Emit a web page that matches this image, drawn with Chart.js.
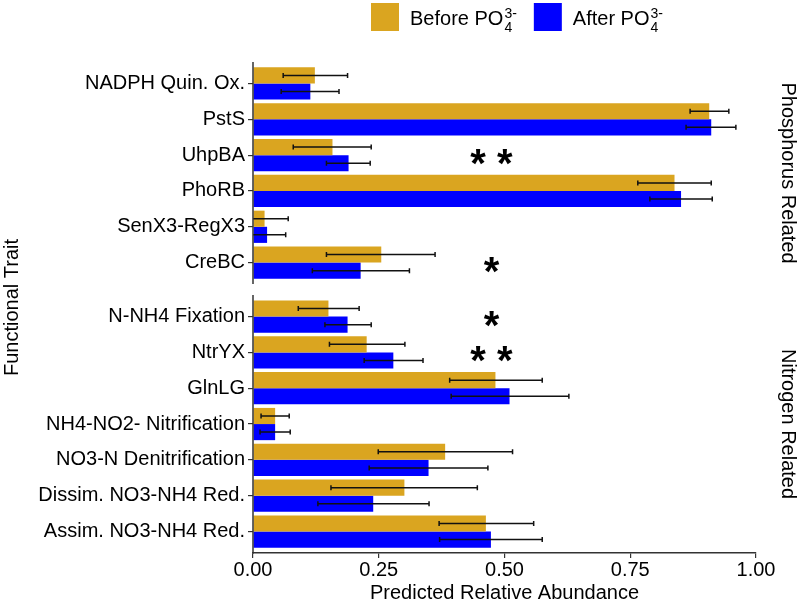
<!DOCTYPE html>
<html>
<head>
<meta charset="utf-8">
<script src="https://cdn.jsdelivr.net/npm/chart.js@4"></script>
<style>
    html, body { margin: 0; padding: 0; background: #fff; }
</style>
</head>
<body>
<canvas id="grafico" width="800" height="605"></canvas>
<script>
// Painel de fósforo
const pCategorias = ['NADPH Quin. Ox.', 'PstS', 'UhpBA', 'PhoRB', 'SenX3-RegX3', 'CreBC'];
const pAntes      = [0.123, 0.907, 0.158, 0.838, 0.023, 0.255];
const pAntesMin   = [0.060, 0.869, 0.080, 0.765, -0.02, 0.146];
const pAntesMax   = [0.188, 0.946, 0.235, 0.911, 0.070, 0.362];
const pDepois     = [0.114, 0.911, 0.190, 0.851, 0.028, 0.214];
const pDepoisMin  = [0.056, 0.861, 0.146, 0.789, -0.02, 0.118];
const pDepoisMax  = [0.171, 0.960, 0.233, 0.913, 0.065, 0.311];
const pSig        = ['', '', '* *', '', '', '*'];

// Painel de nitrogênio
const nCategorias = ['N-NH4 Fixation', 'NtrYX', 'GlnLG', 'NH4-NO2- Nitrification',
                     'NO3-N Denitrification', 'Dissim. NO3-NH4 Red.', 'Assim. NO3-NH4 Red.'];
const nAntes      = [0.150, 0.226, 0.482, 0.044, 0.382, 0.301, 0.463];
const nAntesMin   = [0.090, 0.152, 0.391, 0.016, 0.249, 0.155, 0.370];
const nAntesMax   = [0.211, 0.302, 0.575, 0.072, 0.516, 0.446, 0.558];
const nDepois     = [0.188, 0.279, 0.510, 0.044, 0.349, 0.239, 0.473];
const nDepoisMin  = [0.143, 0.221, 0.394, 0.014, 0.231, 0.129, 0.371];
const nDepoisMax  = [0.235, 0.338, 0.628, 0.074, 0.467, 0.350, 0.575];
const nSig        = ['*', '* *', '', '', '', '', ''];

const paineisNomes = ['Phosphorus Related', 'Nitrogen Related'];
const serieNomes = ['Before PO', 'After PO'];
const serieCores = ['#DAA520', '#0000FF'];
const xTicks = [0, 0.25, 0.5, 0.75, 1];
const posAsterisco = 0.474;

const FONTE = "'Liberation Sans', Arial, sans-serif";
const ESPACO = 0.6;   // expansão discreta (igual ao ggplot)
const GAP = 0.307;    // espaço entre os painéis

// Posições das categorias no eixo y
const posP = pCategorias.map((c, i) => i);
const inicioN = (pCategorias.length - 1) + 2 * ESPACO + GAP;
const posN = nCategorias.map((c, i) => inicioN + i);
const yMin = -ESPACO;
const yMax = inicioN + nCategorias.length - 1 + ESPACO;

const todasCategorias = pCategorias.concat(nCategorias);
const todasPos = posP.concat(posN);
const todasSig = pSig.concat(nSig);

function pontos(valores) {
    return todasPos.map((p, i) => ({ x: valores[i], y: p }));
}

// Barras de erro
const barrasErro = {
    id: 'barrasErro',
    afterDatasetsDraw(chart) {
        const ctx = chart.ctx;
        const escalaX = chart.scales.x;
        const area = chart.chartArea;
        ctx.save();
        ctx.beginPath();
        ctx.rect(area.left, area.top - 10, area.right - area.left + 20, area.bottom - area.top + 20);
        ctx.clip();
        ctx.strokeStyle = '#111';
        ctx.lineWidth = 1.5;
        chart.data.datasets.forEach((ds, i) => {
            chart.getDatasetMeta(i).data.forEach((barra, j) => {
                const x1 = escalaX.getPixelForValue(ds.erroMin[j]);
                const x2 = escalaX.getPixelForValue(ds.erroMax[j]);
                const y = barra.y;
                ctx.beginPath();
                ctx.moveTo(x1, y); ctx.lineTo(x2, y);
                ctx.moveTo(x1, y - 2.5); ctx.lineTo(x1, y + 2.5);
                ctx.moveTo(x2, y - 2.5); ctx.lineTo(x2, y + 2.5);
                ctx.stroke();
            });
        });
        ctx.restore();
    }
};

// Asteriscos de significância
const asteriscos = {
    id: 'asteriscos',
    afterDatasetsDraw(chart) {
        const ctx = chart.ctx;
        const x = chart.scales.x.getPixelForValue(posAsterisco);
        ctx.save();
        ctx.font = 'bold 40px ' + FONTE;
        ctx.fillStyle = '#000';
        ctx.textAlign = 'center';
        ctx.textBaseline = 'alphabetic';
        todasSig.forEach((s, i) => {
            if (!s) return;
            const m = ctx.measureText(s);
            const y = chart.scales.y.getPixelForValue(todasPos[i]) + 2;
            ctx.fillText(s, x, y + (m.actualBoundingBoxAscent - m.actualBoundingBoxDescent) / 2);
        });
        ctx.restore();
    }
};

// Linhas do eixo y e rótulos dos painéis
const paineis = {
    id: 'paineis',
    afterDraw(chart) {
        const ctx = chart.ctx;
        const escalaY = chart.scales.y;
        const area = chart.chartArea;
        const faixas = [
            [yMin, posP[posP.length - 1] + ESPACO],
            [inicioN - ESPACO, yMax]
        ];
        ctx.save();
        faixas.forEach((f, i) => {
            const y1 = escalaY.getPixelForValue(f[0]);
            const y2 = escalaY.getPixelForValue(f[1]);
            ctx.strokeStyle = '#333';
            ctx.lineWidth = 1.5;
            ctx.beginPath();
            ctx.moveTo(area.left, y1);
            ctx.lineTo(area.left, y2 + (i === 1 ? 0.75 : 0));
            ctx.stroke();

            ctx.save();
            ctx.translate(788, (y1 + y2) / 2);
            ctx.rotate(Math.PI / 2);
            ctx.font = '20px ' + FONTE;
            ctx.fillStyle = '#000';
            ctx.textAlign = 'center';
            ctx.textBaseline = 'middle';
            ctx.fillText(paineisNomes[i], 0, 0);
            ctx.restore();
        });
        ctx.restore();
    }
};

// Legenda no topo
const legenda = {
    id: 'legenda',
    afterDraw(chart) {
        const ctx = chart.ctx;
        let x = 371;
        ctx.save();
        ctx.textAlign = 'left';
        ctx.textBaseline = 'alphabetic';
        chart.data.datasets.forEach(ds => {
            ctx.fillStyle = ds.backgroundColor;
            ctx.fillRect(x, 3, 28, 28);
            x += 39;
            ctx.fillStyle = '#000';
            ctx.font = '20px ' + FONTE;
            ctx.fillText(ds.label, x, 25);
            x += ctx.measureText(ds.label).width + 1;
            ctx.font = '14px ' + FONTE;
            ctx.fillText('3-', x, 18);
            ctx.fillText('4', x, 31.5);
            x += ctx.measureText('3-').width + 17;
        });
        ctx.restore();
    }
};

const grafico = new Chart(document.getElementById('grafico').getContext('2d'), {
    type: 'bar',
    data: {
        datasets: [
            {
                label: serieNomes[0],
                data: pontos(pAntes.concat(nAntes)),
                backgroundColor: serieCores[0],
                erroMin: pAntesMin.concat(nAntesMin),
                erroMax: pAntesMax.concat(nAntesMax),
                categoryPercentage: 0.9,
                barPercentage: 1.0
            },
            {
                label: serieNomes[1],
                data: pontos(pDepois.concat(nDepois)),
                backgroundColor: serieCores[1],
                erroMin: pDepoisMin.concat(nDepoisMin),
                erroMax: pDepoisMax.concat(nDepoisMax),
                categoryPercentage: 0.9,
                barPercentage: 1.0
            }
        ]
    },
    options: {
        indexAxis: 'y',
        responsive: false,
        animation: false,
        layout: { padding: { top: 62, right: 44, bottom: 0, left: 0 } },
        plugins: {
            legend: { display: false },
            tooltip: { enabled: false }
        },
        scales: {
            x: {
                type: 'linear',
                min: 0,
                max: 1,
                afterFit: escala => { escala.height = 52; },
                afterBuildTicks: escala => { escala.ticks = xTicks.map(v => ({ value: v })); },
                border: { display: true, color: '#333', width: 1.5 },
                grid: { drawOnChartArea: false, tickLength: 5, tickColor: '#333', lineWidth: 1.2 },
                ticks: {
                    padding: 0,
                    color: '#000',
                    maxRotation: 0,
                    font: { size: 20, family: FONTE },
                    callback: v => v.toFixed(2)
                },
                title: {
                    display: true,
                    text: 'Predicted Relative Abundance',
                    color: '#000',
                    padding: 0,
                    font: { size: 20, family: FONTE }
                }
            },
            y: {
                type: 'linear',
                reverse: true,
                offset: false,
                min: yMin,
                max: yMax,
                afterFit: escala => { escala.width = 253; },
                afterBuildTicks: escala => { escala.ticks = todasPos.map(v => ({ value: v })); },
                border: { display: false },
                grid: { offset: false, drawOnChartArea: false, tickLength: 5, tickColor: '#333', lineWidth: 1.2 },
                ticks: {
                    autoSkip: false,
                    padding: 3,
                    color: '#000',
                    font: { size: 20, family: FONTE },
                    callback: (v, i) => todasCategorias[i]
                },
                title: {
                    display: true,
                    text: 'Functional Trait',
                    color: '#000',
                    padding: 0,
                    font: { size: 20, family: FONTE }
                }
            }
        }
    },
    plugins: [barrasErro, asteriscos, paineis, legenda]
});
</script>
</body>
</html>
